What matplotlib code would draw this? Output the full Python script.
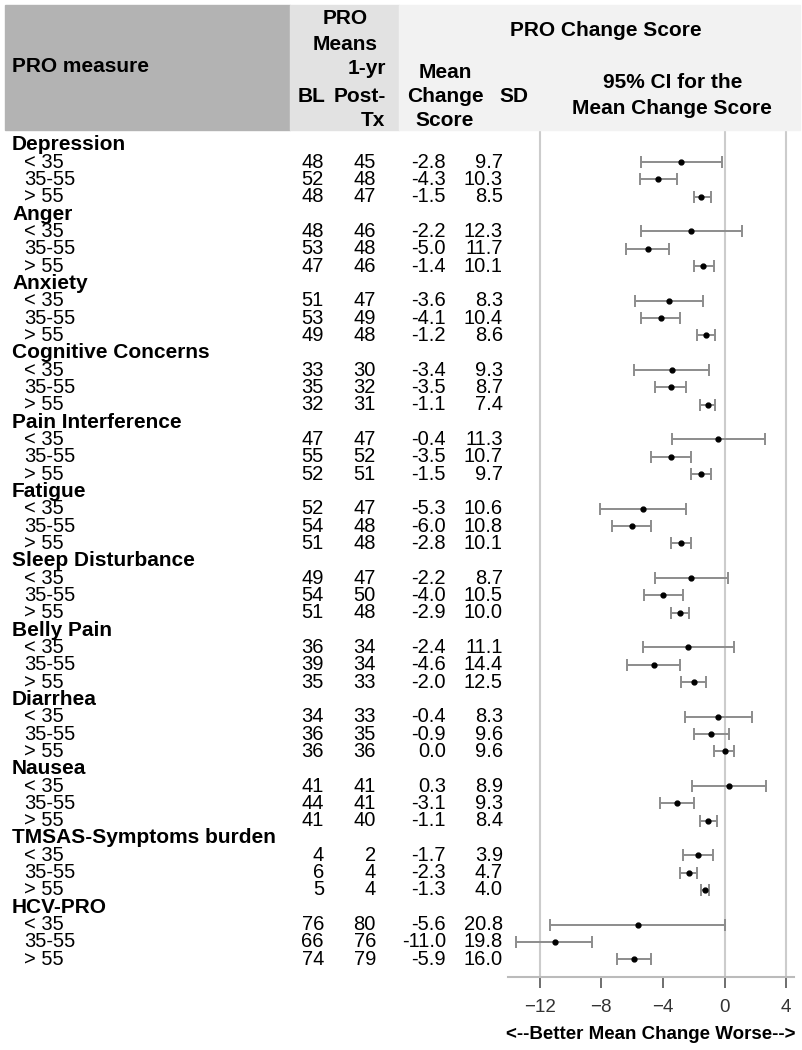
import matplotlib
matplotlib.use("Agg")
import matplotlib.pyplot as plt
from matplotlib.patches import Rectangle
import matplotlib.transforms as mtransforms

plt.rcParams['font.family'] = ['Liberation Sans', 'DejaVu Sans']

# ---- data ----
measures = ["Depression", "Anger", "Anxiety", "Cognitive Concerns", "Pain Interference",
            "Fatigue", "Sleep Disturbance", "Belly Pain", "Diarrhea", "Nausea",
            "TMSAS-Symptoms burden", "HCV-PRO"]
age_groups = ["< 35", "35-55", "> 55"]

bl = [48, 52, 48, 48, 53, 47, 51, 53, 49, 33, 35, 32, 47, 55, 52, 52, 54, 51,
      49, 54, 51, 36, 39, 35, 34, 36, 36, 41, 44, 41, 4, 6, 5, 76, 66, 74]
post = [45, 48, 47, 46, 48, 46, 47, 49, 48, 30, 32, 31, 47, 52, 51, 47, 48, 48,
        47, 50, 48, 34, 34, 33, 33, 35, 36, 41, 41, 40, 2, 4, 4, 80, 76, 79]
mean_change = [-2.8, -4.3, -1.5, -2.2, -5.0, -1.4, -3.6, -4.1, -1.2, -3.4, -3.5, -1.1,
               -0.4, -3.5, -1.5, -5.3, -6.0, -2.8, -2.2, -4.0, -2.9, -2.4, -4.6, -2.0,
               -0.4, -0.9, 0.0, 0.3, -3.1, -1.1, -1.7, -2.3, -1.3, -5.6, -11.0, -5.9]
sd = [9.7, 10.3, 8.5, 12.3, 11.7, 10.1, 8.3, 10.4, 8.6, 9.3, 8.7, 7.4,
      11.3, 10.7, 9.7, 10.6, 10.8, 10.1, 8.7, 10.5, 10.0, 11.1, 14.4, 12.5,
      8.3, 9.6, 9.6, 8.9, 9.3, 8.4, 3.9, 4.7, 4.0, 20.8, 19.8, 16.0]
ci_low = [-5.4, -5.5, -2.0, -5.4, -6.4, -2.0, -5.8, -5.4, -1.8, -5.9, -4.5, -1.6,
          -3.4, -4.8, -2.2, -8.1, -7.3, -3.5, -4.5, -5.2, -3.5, -5.3, -6.3, -2.8,
          -2.6, -2.0, -0.7, -2.1, -4.2, -1.6, -2.7, -2.9, -1.5, -11.3, -13.5, -7.0]
ci_high = [-0.2, -3.1, -0.9, 1.1, -3.6, -0.7, -1.4, -2.9, -0.6, -1.0, -2.5, -0.6,
           2.6, -2.2, -0.9, -2.5, -4.8, -2.2, 0.2, -2.7, -2.3, 0.6, -2.9, -1.2,
           1.8, 0.3, 0.6, 2.7, -2.0, -0.5, -0.75, -1.8, -1.0, 0.0, -8.6, -4.8]
x_ticks = [-12, -8, -4, 0, 4]
ref_lines = [-12, 0, 4]

W, H = 803, 1050
fig = plt.figure(figsize=(W / 100, H / 100), dpi=100)


def fx(px):
    return px / W


def fy(py):
    return 1 - py / H


# forest plot axes (pixel box: x 508-794, y 130-977)
ax = fig.add_axes([fx(508), fy(977), fx(794) - fx(508), (977 - 130) / H])
ax.set_xlim(-14.05, 4.5)
ax.set_ylim(48.02, -0.85)

# row positions: group header then three age groups
rows = []
for g in range(len(measures)):
    for k in range(len(age_groups)):
        rows.append(g * 4 + k + 1)

for v in ref_lines:
    ax.axvline(v, color='#cccccc', lw=1.5, zorder=0)

xerr = [[m - lo for m, lo in zip(mean_change, ci_low)],
        [hi - m for m, hi in zip(mean_change, ci_high)]]
ax.errorbar(mean_change, rows, xerr=xerr, fmt='o', ms=3.5, color='black',
            ecolor='#8c8c8c', elinewidth=1.4, capsize=4, capthick=1.4, zorder=3)

for s in ['top', 'right', 'left']:
    ax.spines[s].set_visible(False)
ax.spines['bottom'].set_color('#bbbbbb')
ax.spines['bottom'].set_linewidth(1.5)
ax.set_yticks([])
ax.set_xticks(x_ticks)
ax.tick_params(axis='x', colors='#555555', labelcolor='#333333', labelsize=13.5,
               length=8, width=1.2, pad=8)
ax.set_xlabel('<--Better Mean Change Worse-->', fontsize=13.5, fontweight='bold',
              labelpad=7)

# ---- header blocks ----
fig.patches.append(Rectangle((fx(5), fy(130)), fx(290) - fx(5), (130 - 5) / H,
                             transform=fig.transFigure, color='#b3b3b3', zorder=0))
fig.patches.append(Rectangle((fx(290), fy(130)), fx(399) - fx(290), (130 - 5) / H,
                             transform=fig.transFigure, color='#e2e2e2', zorder=0))
fig.patches.append(Rectangle((fx(399), fy(130)), fx(800) - fx(399), (130 - 5) / H,
                             transform=fig.transFigure, color='#f2f2f2', zorder=0))

hdr = dict(fontsize=15, fontweight='bold', va='center')
fig.text(fx(12), fy(67), 'PRO measure', ha='left', **hdr)
fig.text(fx(345), fy(19), 'PRO', ha='center', **hdr)
fig.text(fx(345), fy(45), 'Means', ha='center', **hdr)
fig.text(fx(386), fy(69), '1-yr', ha='right', **hdr)
fig.text(fx(312), fy(96), 'BL', ha='center', **hdr)
fig.text(fx(386), fy(96), 'Post-', ha='right', **hdr)
fig.text(fx(385), fy(121), 'Tx', ha='right', **hdr)
fig.text(fx(606), fy(30), 'PRO Change Score', ha='center', **hdr)
fig.text(fx(445), fy(72), 'Mean', ha='center', **hdr)
fig.text(fx(445), fy(97), 'Change', ha='center', **hdr)
fig.text(fx(445), fy(121), 'Score', ha='center', **hdr)
fig.text(fx(514), fy(96), 'SD', ha='center', **hdr)
fig.text(fx(673), fy(82), '95% CI for the', ha='center', **hdr)
fig.text(fx(672), fy(108), 'Mean Change Score', ha='center', **hdr)

# ---- table text, x in figure fraction, y in row units of the forest axes ----
tr = mtransforms.blended_transform_factory(fig.transFigure, ax.transData)
body = dict(fontsize=14.5, va='center', transform=tr)
for g, name in enumerate(measures):
    fig.text(fx(12), g * 4, name, ha='left', fontweight='bold',
             fontsize=15, va='center', transform=tr)
    for k, lab in enumerate(age_groups):
        i = g * 3 + k
        r = g * 4 + k + 1
        fig.text(fx(24), r, lab, ha='left', **body)
        fig.text(fx(324), r, f'{bl[i]}', ha='right', **body)
        fig.text(fx(376), r, f'{post[i]}', ha='right', **body)
        fig.text(fx(446), r, f'{mean_change[i]:.1f}', ha='right', **body)
        fig.text(fx(503), r, f'{sd[i]:.1f}', ha='right', **body)

fig.savefig('out.png', dpi=100)
